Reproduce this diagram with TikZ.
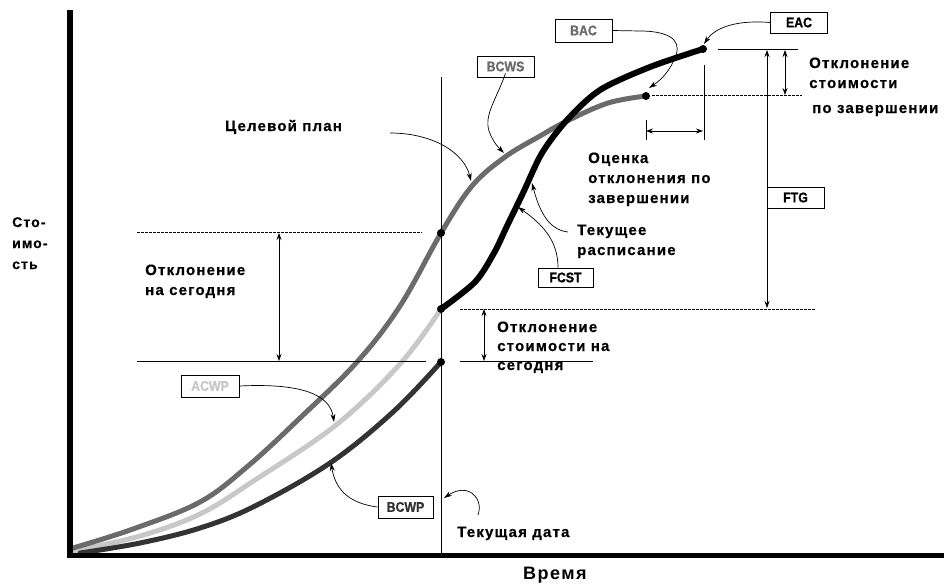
\documentclass[tikz,border=0pt]{standalone}
\usepackage{fontspec}
\usepackage{graphicx}
\setmainfont{Liberation Sans}
\newfontfamily\lblfont[LetterSpace=8, FakeBold=0.6]{Liberation Sans Bold}
\newfontfamily\boxfont[FakeBold=0.8]{Liberation Sans Bold}
\newfontfamily\bigfont[LetterSpace=8]{Liberation Sans Bold}
\usetikzlibrary{arrows.meta}
\definecolor{cbcws}{HTML}{6B6B6B}
\definecolor{cacwp}{HTML}{C8C8C8}
\definecolor{cbcwp}{HTML}{333333}
\begin{document}
\begin{tikzpicture}[x=1pt,y=-1pt,
  txt/.style={font=\lblfont\fontsize{15}{20}\selectfont, anchor=base west, align=left, inner sep=0pt},
  lbox/.style={draw=black, line width=0.8pt, fill=white, minimum width=57pt, minimum height=21pt, inner sep=0pt, font=\boxfont\fontsize{14}{14}\selectfont},
  curve/.style={line width=5pt, line cap=round, line join=round},
  guide/.style={line width=0.7pt},
  dguide/.style={line width=0.7pt, dash pattern=on 3pt off 1pt},
  dimarrow/.style={line width=0.7pt, {Stealth[length=7pt,width=5pt]}-{Stealth[length=7pt,width=5pt]}},
  callout/.style={line width=0.7pt, -{Stealth[length=8pt,width=5pt]}},
  dot/.style={circle, fill=black, inner sep=0pt, minimum size=8pt}
]
\useasboundingbox (0,0) rectangle (944,584);
\fill[white] (0,0) rectangle (944,584);

% curves
\draw[curve, cacwp] plot[smooth, tension=0.6] coordinates {(73,551) (140,536) (200,514) (255,480) (336,425) (400,364) (441,309)};
\draw[curve, cbcwp] plot[smooth, tension=0.6] coordinates {(80,553) (140,543) (200,528) (255,506) (330,463) (393,412) (441,362)};
\draw[curve, cbcws] plot[smooth, tension=0.6] coordinates {(73,548) (133,529) (200,502) (248,466) (300,418) (357,362) (400,306) (441,233) (472,186) (505,157) (540,136) (567,121) (608,103) (646,96)};
\draw[curve, black, line width=6pt] plot[smooth, tension=0.5] coordinates {(441,309) (475,282) (494,253) (507,226) (523,193) (542,153) (567,120) (600,90) (650,67) (703,49)};

% axes
\draw[line width=6pt] (70,10) -- (70,557);
\draw[line width=5pt] (67,555) -- (944,555);

% current date line
\coordinate (dtop) at (441,77);
\coordinate (dbot) at (441,553);
\draw[guide] (dtop) -- (dbot);

% guide lines
\draw[dguide] (137,232) -- (422,232);
\draw[guide] (137,361) -- (426,361);
\draw[dguide] (460,309) -- (815,309);
\draw[guide] (460,361) -- (593,361);
\draw[guide] (718,49) -- (798,49);
\draw[dguide] (652,95) -- (802,95);
\draw[guide] (704,65) -- (704,140);
\draw[guide] (646,120) -- (646,140);

% dimension arrows
\coordinate (a1t) at (279,233); \coordinate (a1b) at (279,361);
\draw[dimarrow] (a1t) -- (a1b);
\coordinate (a2t) at (484,309); \coordinate (a2b) at (484,361);
\draw[dimarrow] (a2t) -- (a2b);
\coordinate (a3t) at (785,50); \coordinate (a3b) at (785,95);
\draw[dimarrow] (a3t) -- (a3b);
\coordinate (a4t) at (767,50); \coordinate (a4b) at (767,308);
\draw[dimarrow] (a4t) -- (a4b);
\coordinate (a5l) at (646,131); \coordinate (a5r) at (703,131);
\draw[dimarrow] (a5l) -- (a5r);

% dots
\node[dot] (d1) at (441,233) {};
\node[dot] (d2) at (441,309) {};
\node[dot] (d3) at (441,362) {};
\node[dot] (d4) at (646,96) {};
\node[dot] (d5) at (703,49) {};

% boxed labels
\node[lbox, text=cbcws] (bcws) at (505.5,66.5) {\scalebox{0.88}[1]{BCWS}};
\node[lbox, text=cbcws, minimum height=23pt] (bac) at (583.5,30.5) {\scalebox{0.88}[1]{BAC}};
\node[lbox] (eac) at (799,22.5) {\scalebox{0.88}[1]{EAC}};
\node[lbox, minimum height=19pt, minimum width=55pt] (fcst) at (565.5,277.5) {\scalebox{0.88}[1]{FCST}};
\node[lbox] (ftg) at (795.5,197.5) {\scalebox{0.88}[1]{FTG}};
\node[lbox, text=cacwp, minimum height=22pt, minimum width=58pt] (acwp) at (210,386) {\scalebox{0.88}[1]{ACWP}};
\node[lbox, text=cbcwp, minimum height=22pt, minimum width=55pt] (bcwp) at (405.5,507) {\scalebox{0.88}[1]{BCWP}};

% texts (base anchor = baseline of the last line)
\node[txt] (tplan) at (225,131) {Целевой план};
\node[txt] (ttoday) at (145,295) {Отклонение\\на сегодня};
\node[txt, font=\lblfont\fontsize{15}{19}\selectfont] (tcost) at (497,370) {Отклонение\\стоимости на\\сегодня};
\node[txt] (test) at (588,203) {Оценка\\отклонения по\\завершении};
\node[txt] (tsched) at (577,255) {Текущее\\расписание};
\node[txt] (tcomp) at (809,88) {Отклонение\\стоимости};
\node[txt] (tcomp2) at (812,113) {по завершении};
\node[txt] (tdate) at (457,537) {Текущая дата};
\node[txt, font=\lblfont\fontsize{14}{21}\selectfont] (tcost2) at (12,269) {Сто-\\имо-\\сть};
\node[anchor=base west, inner sep=0pt, font=\bigfont\fontsize{18}{18}\selectfont] (ttime) at (523,579) {Время};

% callout arrows
\coordinate (cp1s) at (390,133); \coordinate (cp1e) at (471,181);
\draw[callout] (cp1s) .. controls (432,133) and (464,152) .. (cp1e);
\coordinate (cp2e) at (504,153);
\draw[callout] ([yshift=4pt]bcws.south) .. controls (496,100) and (484,115) .. (489,131) .. controls (493,142) and (498,147) .. (cp2e);
\coordinate (cp3e) at (649,88);
\draw[callout] (bac.east) -- (640,31) .. controls (665,31) and (682,38) .. (676,55) .. controls (671,70) and (661,80) .. (cp3e);
\coordinate (cp4e) at (704,44);
\draw[callout] (eac.west) .. controls (740,20) and (716,26) .. (cp4e);
\coordinate (cp5s) at (568,232); \coordinate (cp5e) at (532,183);
\draw[callout] (cp5s) .. controls (550,230) and (540,214) .. (cp5e);
\coordinate (cp6e) at (518,207);
\draw[callout] (fcst.north -| 558,0) .. controls (558,240) and (542,224) .. (cp6e);
\coordinate (cp7e) at (334,422);
\draw[callout] (acwp.east) .. controls (300,383) and (330,394) .. (cp7e);
\coordinate (cp8e) at (331,463);
\draw[callout] (bcwp.west) .. controls (346,503) and (335,487) .. (cp8e);
\coordinate (cp9s) at (478,515); \coordinate (cp9e) at (444,498);
\draw[callout] (cp9s) .. controls (484,498) and (468,482) .. (cp9e);
\end{tikzpicture}
\end{document}
